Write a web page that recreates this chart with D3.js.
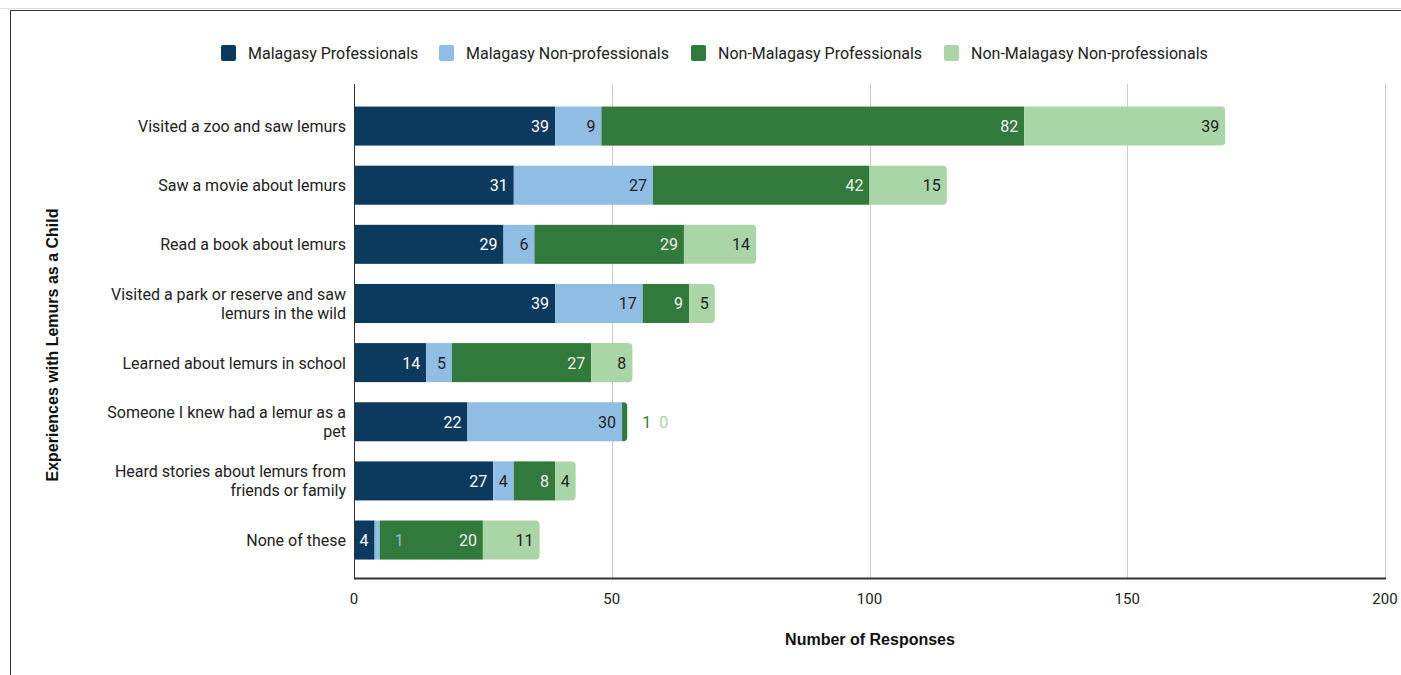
<!DOCTYPE html>
<html>
<head>
<meta charset="utf-8">
<script src="https://cdn.jsdelivr.net/npm/d3@7"></script>
<style>
  body { margin: 0; background: #fff; }
  svg { display: block; }
</style>
</head>
<body>
<svg id="chart" width="1401" height="675"></svg>
<script>
// categories, top to bottom
var categories = [
    ['Visited a zoo and saw lemurs'],
    ['Saw a movie about lemurs'],
    ['Read a book about lemurs'],
    ['Visited a park or reserve and saw', 'lemurs in the wild'],
    ['Learned about lemurs in school'],
    ['Someone I knew had a lemur as a', 'pet'],
    ['Heard stories about lemurs from', 'friends or family'],
    ['None of these']
];

var seriesNames = ['Malagasy Professionals', 'Malagasy Non-professionals',
    'Non-Malagasy Professionals', 'Non-Malagasy Non-professionals'];
var seriesColors = ['#0c3a5f', '#8fbde3', '#317a3b', '#aad5a6'];
var labelColors = ['#ffffff', '#1f1f1f', '#f0f0f0', '#1f1f1f'];

var malagasyPro = [39, 31, 29, 39, 14, 22, 27, 4];
var malagasyNonPro = [9, 27, 6, 17, 5, 30, 4, 1];
var nonMalagasyPro = [82, 42, 29, 9, 27, 1, 8, 20];
var nonMalagasyNonPro = [39, 15, 14, 5, 8, 0, 4, 11];

var xTicks = [0, 50, 100, 150, 200];

var series = [malagasyPro, malagasyNonPro, nonMalagasyPro, nonMalagasyNonPro];

var svg = d3.select('#chart');

// frame
svg.append('line').attr('x1', 0).attr('x2', 1401).attr('y1', 8.5).attr('y2', 8.5)
    .style('stroke', '#ddd');
svg.append('line').attr('x1', 10).attr('x2', 1401).attr('y1', 10.5).attr('y2', 10.5)
    .style('stroke', '#333');
svg.append('line').attr('x1', 10.5).attr('x2', 10.5).attr('y1', 10).attr('y2', 675)
    .style('stroke', '#333');

var x = d3.scaleLinear().domain([0, 200]).range([354, 1385]);
var y = d3.scaleBand().domain(d3.range(categories.length))
    .range([96.5, 569.6]).paddingInner(0.34).paddingOuter(0.17);

var plotTop = 84, plotBottom = 578.5;

// gridlines
svg.append('g').selectAll('line').data(xTicks.slice(1)).enter().append('line')
    .attr('x1', function(d) { return Math.round(x(d)) + 0.5; })
    .attr('x2', function(d) { return Math.round(x(d)) + 0.5; })
    .attr('y1', plotTop).attr('y2', plotBottom)
    .style('stroke', '#cccccc');

// tick labels
svg.append('g').selectAll('text').data(xTicks).enter().append('text')
    .attr('x', function(d) { return x(d); })
    .attr('y', 604)
    .attr('text-anchor', 'middle')
    .style('font-family', 'Roboto, sans-serif')
    .style('font-size', '15px')
    .style('fill', '#222')
    .text(function(d) { return d; });

// stacked bars
var gBars = svg.append('g');
var gLabels = svg.append('g');

function roundedRight(x0, y0, w, h, r) {
    r = Math.min(r, w);
    return 'M' + x0 + ',' + y0 + 'H' + (x0 + w - r) +
        'Q' + (x0 + w) + ',' + y0 + ' ' + (x0 + w) + ',' + (y0 + r) +
        'V' + (y0 + h - r) +
        'Q' + (x0 + w) + ',' + (y0 + h) + ' ' + (x0 + w - r) + ',' + (y0 + h) +
        'H' + x0 + 'Z';
}

var measure = svg.append('text').style('font-family', 'Roboto, sans-serif')
    .style('font-size', '16px').style('visibility', 'hidden');
function textWidth(t) {
    measure.text(t);
    return measure.node().getComputedTextLength();
}

categories.forEach(function(cat, i) {
    var acc = 0;
    var yTop = y(i), h = y.bandwidth();
    var lastIdx = -1;
    series.forEach(function(s, k) { if (s[i] > 0) lastIdx = k; });
    var outsideEnd = null;
    series.forEach(function(s, k) {
        var v = s[i];
        var x0 = x(acc), x1 = x(acc + v);
        acc += v;
        if (v > 0) {
            if (k == lastIdx) {
                gBars.append('path').attr('d', roundedRight(x0, yTop, x1 - x0, h, 4))
                    .style('fill', seriesColors[k]);
            } else {
                gBars.append('rect').attr('x', x0).attr('y', yTop)
                    .attr('width', x1 - x0).attr('height', h)
                    .style('fill', seriesColors[k]);
            }
        }
        var label = String(v);
        var tw = textWidth(label);
        var cy = yTop + h / 2 + 6;
        if (tw + 10 <= x1 - x0) {
            gLabels.append('text').attr('x', x1 - 6).attr('y', cy)
                .attr('text-anchor', 'end')
                .style('font-family', 'Roboto, sans-serif').style('font-size', '16px')
                .style('fill', labelColors[k]).text(label);
        } else {
            // label does not fit: put it to the right, in the series colour
            var lx = x1 + 15;
            if (outsideEnd !== null) lx = Math.max(lx, outsideEnd + 8);
            gLabels.append('text').attr('x', lx).attr('y', cy)
                .style('font-family', 'Roboto, sans-serif').style('font-size', '16px')
                .style('fill', seriesColors[k]).text(label);
            outsideEnd = lx + tw;
        }
    });
});

// axes lines
svg.append('line').attr('x1', 354.5).attr('x2', 354.5).attr('y1', plotTop).attr('y2', plotBottom + 1)
    .style('stroke', '#333');
svg.append('line').attr('x1', 354).attr('x2', 1386).attr('y1', plotBottom).attr('y2', plotBottom)
    .style('stroke', '#333').style('stroke-width', 2);

// category labels
categories.forEach(function(lines, i) {
    var cy = y(i) + y.bandwidth() / 2;
    var t = svg.append('text')
        .attr('text-anchor', 'end')
        .style('font-family', 'Roboto, sans-serif')
        .style('font-size', '16px')
        .style('fill', '#222');
    var lh = 19;
    var startY = cy + 6 - (lines.length - 1) * lh / 2;
    lines.forEach(function(line, j) {
        t.append('tspan').attr('x', 346).attr('y', startY + j * lh).text(line);
    });
});

// axis titles
svg.append('text').attr('x', 870).attr('y', 645).attr('text-anchor', 'middle')
    .style('font-family', 'Arial, "Liberation Sans", sans-serif')
    .style('font-size', '16px').style('font-weight', 'bold').style('fill', '#111')
    .text('Number of Responses');
svg.append('text')
    .attr('transform', 'translate(58,345) rotate(-90)')
    .attr('text-anchor', 'middle')
    .style('font-family', 'Arial, "Liberation Sans", sans-serif')
    .style('font-size', '16px').style('font-weight', 'bold').style('fill', '#111')
    .text('Experiences with Lemurs as a Child');

// legend
var legendX = [221, 439, 691, 944];
var legend = svg.append('g').selectAll('g').data(seriesNames).enter().append('g')
    .attr('transform', function(d, i) { return 'translate(' + legendX[i] + ',45)'; });
legend.append('rect').attr('width', 15).attr('height', 16).attr('rx', 2)
    .style('fill', function(d, i) { return seriesColors[i]; });
legend.append('text').attr('x', 27).attr('y', 14)
    .style('font-family', 'Roboto, sans-serif').style('font-size', '16px')
    .style('fill', '#222')
    .text(function(d) { return d; });
</script>
</body>
</html>
